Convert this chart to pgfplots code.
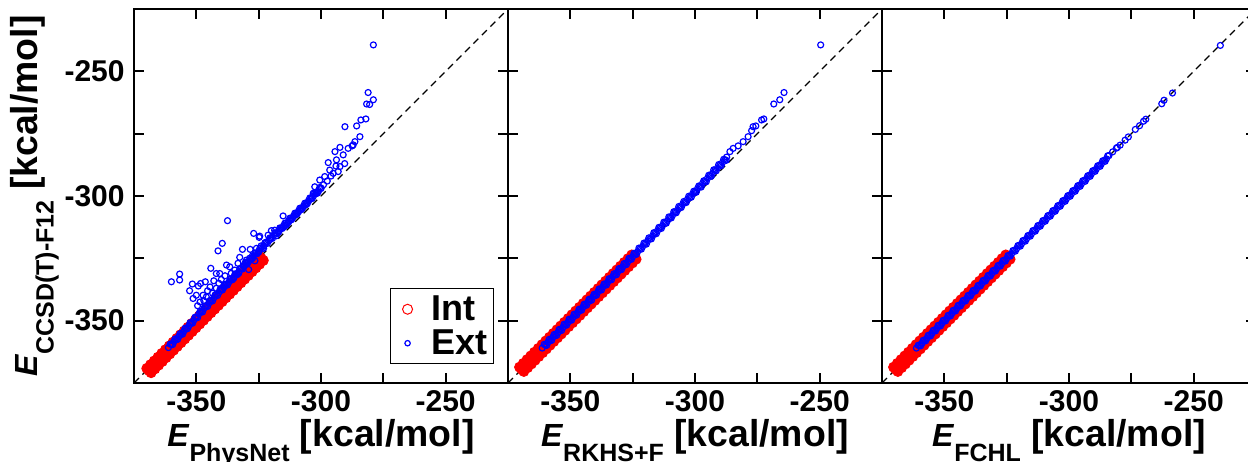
\documentclass[border=0pt]{standalone}
\usepackage{fontspec}
\setmainfont{Liberation Sans}
\usepackage{pgfplots}
\pgfplotsset{compat=1.18}
\usepackage{pgfplotstable}

% Int (training-range) points. Panels 2/3: (p,m), (x,x), (m,p); panel 1: (c,d), (e,f), (g,h)
\pgfplotstableread{
x p m c d e f g h
-369.5 -368.65 -370.35 -368.15 -370.85 -369.0 -370.0 -369.85 -369.15
-368.0 -367.15 -368.85 -366.65 -369.35 -367.5 -368.5 -368.35 -367.65
-366.5 -365.65 -367.35 -365.15 -367.85 -366.0 -367.0 -366.85 -366.15
-365.0 -364.15 -365.85 -363.65 -366.35 -364.5 -365.5 -365.35 -364.65
-363.5 -362.65 -364.35 -362.15 -364.85 -363.0 -364.0 -363.85 -363.15
-362.0 -361.15 -362.85 -360.65 -363.35 -361.5 -362.5 -362.35 -361.65
-360.5 -359.65 -361.35 -359.15 -361.85 -360.0 -361.0 -360.85 -360.15
-359.0 -358.15 -359.85 -357.65 -360.35 -358.5 -359.5 -359.35 -358.65
-357.5 -356.65 -358.35 -356.15 -358.85 -357.0 -358.0 -357.85 -357.15
-356.0 -355.15 -356.85 -354.65 -357.35 -355.5 -356.5 -356.35 -355.65
-354.5 -353.65 -355.35 -353.15 -355.85 -354.0 -355.0 -354.85 -354.15
-353.0 -352.15 -353.85 -351.65 -354.35 -352.5 -353.5 -353.35 -352.65
-351.5 -350.65 -352.35 -350.15 -352.85 -351.0 -352.0 -351.85 -351.15
-350.0 -349.15 -350.85 -348.65 -351.35 -349.5 -350.5 -350.35 -349.65
-348.5 -347.65 -349.35 -347.15 -349.85 -348.0 -349.0 -348.85 -348.15
-347.0 -346.15 -347.85 -345.65 -348.35 -346.5 -347.5 -347.35 -346.65
-345.5 -344.65 -346.35 -344.15 -346.85 -345.0 -346.0 -345.85 -345.15
-344.0 -343.15 -344.85 -342.65 -345.35 -343.5 -344.5 -344.35 -343.65
-342.5 -341.65 -343.35 -341.15 -343.85 -342.0 -343.0 -342.85 -342.15
-341.0 -340.15 -341.85 -339.65 -342.35 -340.5 -341.5 -341.35 -340.65
-339.5 -338.65 -340.35 -338.15 -340.85 -339.0 -340.0 -339.85 -339.15
-338.0 -337.15 -338.85 -336.65 -339.35 -337.5 -338.5 -338.35 -337.65
-336.5 -335.65 -337.35 -335.15 -337.85 -336.0 -337.0 -336.85 -336.15
-335.0 -334.15 -335.85 -333.65 -336.35 -334.5 -335.5 -335.35 -334.65
-333.5 -332.65 -334.35 -332.15 -334.85 -333.0 -334.0 -333.85 -333.15
-332.0 -331.15 -332.85 -330.65 -333.35 -331.5 -332.5 -332.35 -331.65
-330.5 -329.65 -331.35 -329.15 -331.85 -330.0 -331.0 -330.85 -330.15
-329.0 -328.15 -329.85 -327.65 -330.35 -328.5 -329.5 -329.35 -328.65
-327.5 -326.65 -328.35 -326.15 -328.85 -327.0 -328.0 -327.85 -327.15
-326.0 -325.15 -326.85 -324.65 -327.35 -325.5 -326.5 -326.35 -325.65
-324.5 -323.65 -325.35 -323.15 -325.85 -324.0 -325.0 -324.85 -324.15
}\intdata

% Ext points, PhysNet panel
\pgfplotstableread{
x y
-361.2 -360.8
-360.0 -359.5
-359.0 -358.4
-358.0 -357.5
-357.0 -356.3
-356.0 -355.4
-355.0 -354.2
-354.0 -353.3
-353.0 -352.1
-352.0 -351.0
-351.0 -349.8
-350.0 -348.6
-349.0 -347.3
-348.0 -346.4
-347.0 -345.2
-346.0 -344.1
-345.0 -343.0
-344.0 -341.8
-343.0 -340.9
-342.0 -339.6
-341.0 -338.8
-340.0 -337.6
-339.0 -336.7
-338.0 -335.4
-337.0 -334.6
-336.0 -333.3
-335.0 -332.5
-334.0 -331.2
-333.0 -330.4
-332.0 -329.1
-331.0 -328.3
-330.0 -327.0
-329.0 -326.2
-328.0 -325.0
-327.0 -324.1
-326.0 -322.9
-325.0 -322.1
-324.0 -320.8
-323.0 -320.0
-322.0 -318.8
-321.0 -318.0
-320.0 -316.9
-319.0 -315.9
-318.0 -314.9
-317.0 -313.9
-316.0 -312.9
-315.0 -311.9
-314.0 -310.9
-313.0 -309.9
-312.0 -309.0
-311.0 -308.0
-310.0 -307.0
-309.0 -306.0
-308.0 -305.0
-307.0 -304.0
-306.0 -303.0
-305.0 -302.0
-304.0 -301.0
-303.0 -300.0
-302.0 -299.0
-301.0 -297.8
-300.0 -296.8
-360.5 -359.4
-359.5 -359.6
-358.5 -357.3
-357.5 -357.5
-356.5 -355.2
-355.5 -355.4
-354.5 -353.0
-353.5 -353.2
-352.5 -350.8
-351.5 -351.0
-350.5 -348.6
-349.5 -348.8
-348.5 -346.3
-347.5 -346.5
-346.5 -344.1
-345.5 -344.3
-344.5 -341.9
-343.5 -342.1
-342.5 -339.7
-341.5 -339.9
-340.5 -337.5
-339.5 -337.7
-338.5 -335.5
-337.5 -335.7
-336.5 -333.4
-335.5 -333.6
-334.5 -331.3
-333.5 -331.5
-332.5 -329.1
-331.5 -329.3
-330.5 -326.9
-329.5 -327.1
-328.5 -324.9
-327.5 -325.1
-326.5 -322.9
-325.5 -323.1
-324.5 -320.9
-323.5 -321.1
-322.5 -318.8
-321.5 -319.0
-320.5 -316.8
-319.5 -317.0
-318.5 -314.8
-317.5 -315.0
-316.5 -312.8
-315.5 -313.0
-314.5 -310.9
-313.5 -311.1
-312.5 -308.9
-311.5 -309.1
-310.5 -306.9
-309.5 -307.1
-308.5 -304.9
-307.5 -305.1
-306.5 -302.9
-305.5 -303.1
-304.5 -300.8
-303.5 -301.0
-302.5 -298.7
-301.5 -298.9
-300.5 -296.6
-360.0 -334.4
-356.7 -331.3
-356.7 -333.7
-352.7 -338.0
-351.6 -335.3
-351.3 -341.1
-350.0 -339.8
-349.2 -336.1
-348.3 -335.1
-347.3 -339.8
-346.4 -334.4
-348.5 -342.5
-349.5 -344.0
-347.0 -342.0
-346.0 -340.5
-345.5 -338.0
-344.2 -329.0
-344.5 -336.5
-343.5 -339.0
-343.0 -334.0
-342.0 -331.1
-342.0 -337.0
-341.0 -335.0
-341.3 -322.0
-340.6 -331.1
-340.0 -333.5
-339.6 -319.0
-339.0 -336.0
-338.5 -332.0
-337.9 -327.7
-337.5 -309.9
-336.6 -328.4
-336.0 -331.0
-335.0 -333.0
-334.6 -329.7
-333.3 -327.0
-333.0 -331.0
-332.6 -324.6
-331.5 -321.4
-331.0 -328.0
-330.0 -326.5
-329.9 -325.7
-329.0 -329.5
-328.4 -321.4
-327.0 -315.0
-327.5 -324.0
-326.5 -326.0
-325.9 -321.0
-325.0 -322.5
-324.8 -316.6
-324.6 -316.1
-324.0 -320.0
-323.0 -321.0
-322.0 -318.5
-321.2 -315.7
-320.5 -317.5
-319.9 -313.9
-318.6 -313.7
-318.0 -316.0
-317.0 -314.5
-315.2 -308.0
-316.0 -313.0
-315.0 -312.5
-314.0 -311.8
-313.0 -310.5
-312.0 -309.6
-311.0 -308.2
-310.0 -307.5
-309.0 -306.3
-308.0 -305.5
-307.0 -304.2
-306.0 -303.5
-305.0 -302.0
-304.0 -301.0
-303.1 -298.9
-302.5 -296.3
-302.0 -299.0
-301.1 -298.3
-300.5 -293.6
-300.0 -297.0
-299.0 -295.5
-298.5 -292.2
-297.5 -294.0
-297.1 -286.6
-296.5 -289.6
-296.0 -292.0
-295.1 -290.9
-294.4 -282.2
-294.0 -288.0
-293.8 -285.5
-293.1 -290.2
-292.4 -288.2
-292.4 -280.5
-291.1 -283.5
-290.5 -287.0
-290.4 -272.2
-289.1 -280.9
-287.5 -279.9
-287.1 -279.5
-286.4 -278.2
-285.7 -271.9
-284.4 -276.2
-284.0 -269.5
-282.0 -269.1
-281.7 -263.1
-281.1 -258.5
-280.5 -263.3
-279.0 -261.4
-279.0 -239.4
}\extA

% Ext points, RKHS+F panel
\pgfplotstableread{
x y
-361.3 -361.0
-360.0 -359.8
-359.0 -358.7
-358.0 -357.8
-357.0 -356.6
-356.0 -355.7
-355.0 -354.8
-354.0 -353.6
-353.0 -352.7
-352.0 -351.6
-351.0 -350.7
-350.0 -349.6
-349.0 -348.7
-348.0 -347.5
-347.0 -346.6
-346.0 -345.6
-345.0 -344.6
-344.0 -343.5
-343.0 -342.6
-342.0 -341.5
-341.0 -340.5
-340.0 -339.6
-339.0 -338.5
-338.0 -337.4
-337.0 -336.5
-336.0 -335.4
-335.0 -334.5
-334.0 -333.4
-333.0 -332.3
-332.0 -331.5
-331.0 -330.4
-330.0 -329.3
-329.0 -328.4
-328.0 -327.3
-327.0 -326.4
-326.0 -325.2
-325.0 -324.3
-324.0 -323.2
-323.0 -322.3
-322.0 -321.1
-321.0 -320.2
-320.0 -319.1
-319.0 -318.0
-318.0 -317.1
-317.0 -316.0
-316.0 -314.9
-315.0 -313.9
-314.0 -312.8
-313.0 -311.9
-312.0 -310.7
-311.0 -309.8
-310.0 -308.6
-309.0 -307.7
-308.0 -306.5
-307.0 -305.6
-306.0 -304.5
-305.0 -303.4
-304.0 -302.5
-303.0 -301.3
-302.0 -300.4
-301.0 -299.2
-300.0 -298.3
-299.0 -297.1
-298.0 -296.2
-297.0 -295.0
-296.0 -294.1
-295.0 -292.9
-294.0 -291.8
-293.0 -290.9
-292.0 -289.7
-291.0 -288.8
-290.0 -287.6
-289.0 -286.6
-288.0 -285.5
-287.3 -284.4
-360.5 -359.5
-359.5 -359.9
-358.5 -357.5
-357.5 -357.9
-356.5 -355.5
-355.5 -355.9
-354.5 -353.5
-353.5 -353.9
-352.5 -351.4
-351.5 -351.8
-350.5 -349.4
-349.5 -349.8
-348.5 -347.4
-347.5 -347.8
-346.5 -345.4
-345.5 -345.8
-344.5 -343.4
-343.5 -343.8
-342.5 -341.4
-341.5 -341.8
-340.5 -339.4
-339.5 -339.8
-338.5 -337.3
-337.5 -337.7
-336.5 -335.3
-335.5 -335.7
-334.5 -333.2
-333.5 -333.6
-332.5 -331.2
-331.5 -331.6
-330.5 -329.1
-329.5 -329.5
-328.5 -327.1
-327.5 -327.5
-326.5 -325.0
-325.5 -325.4
-324.5 -323.0
-323.5 -323.4
-322.5 -320.9
-321.5 -321.3
-320.5 -318.9
-319.5 -319.3
-318.5 -316.8
-317.5 -317.2
-316.5 -314.7
-315.5 -315.1
-314.5 -312.6
-313.5 -313.0
-312.5 -310.5
-311.5 -310.9
-310.5 -308.4
-309.5 -308.8
-308.5 -306.3
-307.5 -306.7
-306.5 -304.2
-305.5 -304.6
-304.5 -302.2
-303.5 -302.6
-302.5 -300.1
-301.5 -300.5
-300.5 -298.1
-299.5 -298.5
-298.5 -296.0
-297.5 -296.4
-296.5 -293.9
-295.5 -294.3
-294.5 -291.7
-293.5 -292.1
-292.5 -289.5
-291.5 -289.9
-290.5 -287.4
-289.5 -287.8
-288.5 -285.3
-287.5 -285.7
-286.0 -282.2
-284.7 -280.9
-282.7 -279.9
-280.7 -278.2
-278.7 -276.2
-277.3 -273.8
-276.7 -272.2
-275.6 -271.9
-273.3 -269.5
-272.4 -269.1
-268.4 -263.1
-266.0 -261.4
-264.3 -258.5
-249.6 -239.4
}\extB

% Ext points, FCHL panel
\pgfplotstableread{
x y
-361.2 -361.0
-360.0 -359.8
-359.0 -359.1
-358.0 -357.8
-357.0 -357.1
-356.0 -355.8
-355.0 -355.1
-354.0 -353.8
-353.0 -353.1
-352.0 -351.8
-351.0 -351.1
-350.0 -349.8
-349.0 -349.1
-348.0 -347.8
-347.0 -347.1
-346.0 -345.8
-345.0 -345.1
-344.0 -343.8
-343.0 -343.1
-342.0 -341.8
-341.0 -341.1
-340.0 -339.8
-339.0 -339.1
-338.0 -337.8
-337.0 -337.1
-336.0 -335.8
-335.0 -335.1
-334.0 -333.8
-333.0 -333.1
-332.0 -331.8
-331.0 -331.1
-330.0 -329.8
-329.0 -329.1
-328.0 -327.8
-327.0 -327.1
-326.0 -325.8
-325.0 -325.1
-324.0 -323.8
-323.0 -323.1
-322.0 -321.8
-321.0 -321.1
-320.0 -319.8
-319.0 -319.1
-318.0 -317.8
-317.0 -317.1
-316.0 -315.8
-315.0 -315.1
-314.0 -313.8
-313.0 -313.1
-312.0 -311.8
-311.0 -311.1
-310.0 -309.8
-309.0 -309.1
-308.0 -307.8
-307.0 -307.1
-306.0 -305.8
-305.0 -305.1
-304.0 -303.8
-303.0 -303.1
-302.0 -301.8
-301.0 -301.1
-300.0 -299.8
-299.0 -299.1
-298.0 -297.8
-297.0 -297.1
-296.0 -295.8
-295.0 -295.1
-294.0 -293.8
-293.0 -293.1
-292.0 -291.8
-291.0 -291.1
-290.0 -289.8
-289.0 -289.1
-288.0 -287.8
-287.0 -287.1
-286.0 -285.8
-285.0 -285.1
-284.0 -283.8
-360.5 -359.9
-359.5 -360.1
-358.5 -357.9
-357.5 -358.1
-356.5 -355.9
-355.5 -356.1
-354.5 -353.9
-353.5 -354.1
-352.5 -351.9
-351.5 -352.1
-350.5 -349.9
-349.5 -350.1
-348.5 -347.9
-347.5 -348.1
-346.5 -345.9
-345.5 -346.1
-344.5 -343.9
-343.5 -344.1
-342.5 -341.9
-341.5 -342.1
-340.5 -339.9
-339.5 -340.1
-338.5 -337.9
-337.5 -338.1
-336.5 -335.9
-335.5 -336.1
-334.5 -333.9
-333.5 -334.1
-332.5 -331.9
-331.5 -332.1
-330.5 -329.9
-329.5 -330.1
-328.5 -327.9
-327.5 -328.1
-326.5 -325.9
-325.5 -326.1
-324.5 -323.9
-323.5 -324.1
-322.5 -321.9
-321.5 -322.1
-320.5 -319.9
-319.5 -320.1
-318.5 -317.9
-317.5 -318.1
-316.5 -315.9
-315.5 -316.1
-314.5 -313.9
-313.5 -314.1
-312.5 -311.9
-311.5 -312.1
-310.5 -309.9
-309.5 -310.1
-308.5 -307.9
-307.5 -308.1
-306.5 -305.9
-305.5 -306.1
-304.5 -303.9
-303.5 -304.1
-302.5 -301.9
-301.5 -302.1
-300.5 -299.9
-299.5 -300.1
-298.5 -297.9
-297.5 -298.1
-296.5 -295.9
-295.5 -296.1
-294.5 -293.9
-293.5 -294.1
-292.5 -291.9
-291.5 -292.1
-290.5 -289.9
-289.5 -290.1
-288.5 -287.9
-287.5 -288.1
-286.5 -285.9
-285.5 -286.1
-284.5 -283.9
-282.5 -282.3
-281.0 -280.8
-280.6 -280.5
-279.5 -279.6
-277.5 -277.6
-276.2 -276.3
-273.4 -273.3
-271.7 -271.8
-270.1 -270.0
-269.2 -269.2
-262.8 -263.0
-261.9 -261.6
-258.5 -258.7
-239.3 -239.6
}\extC

\newcommand{\labfont}{\fontsize{18.7}{19}\selectfont\bfseries}
% axis title: E (slightly smaller), lowered subscript, unit
\newcommand{\lab}[2]{{\fontsize{16}{16}\selectfont\textit{E}}\raisebox{#2}{\fontsize{12.5}{13}\selectfont\bfseries #1}\ [kcal/mol]}

\pgfplotsset{
  panel/.style={
    scale only axis, width=187pt, height=187pt,
    anchor=south west,
    xmin=-375, xmax=-225, ymin=-375, ymax=-225,
    xtick={-350,-300,-250}, ytick={-350,-300,-250},
    xticklabels={-350,-300,-250},
    minor xtick={-325,-275}, minor ytick={-325,-275},
    major tick length=5pt, minor tick length=5pt,
    tick style={black, line width=1pt},
    axis line style={line width=1pt},
    tick label style={font=\fontsize{15}{15}\selectfont\bfseries},
    xticklabel style={inner sep=0pt, yshift=-3.5pt},
    yticklabel style={inner sep=0pt, xshift=-4.5pt},
    every axis x label/.style={at={(axis description cs:0.5,-0.1711)}, anchor=base, font=\labfont},
  },
  intst/.style={only marks, mark=*, mark size=2.5pt,
    mark options={draw=red, fill=red, line width=0.5pt}},
  extst/.style={only marks, mark=o, mark size=1.5pt,
    mark options={draw=blue, line width=0.6pt}},
  diagst/.style={black, line width=0.6pt, dash pattern=on 3.5pt off 2.5pt},
}

\begin{document}
\begin{tikzpicture}
% ---------- panel 1 ----------
\begin{axis}[panel, at={(67pt,39pt)},
  xlabel={\lab{PhysNet}{-7.2pt}},
  ylabel={\lab{CCSD(T)-F12}{-8pt}},
  yticklabels={-350,-300,-250},
  every axis y label/.style={at={(axis description cs:-0.258,0.5)}, rotate=90, anchor=base, font=\labfont},
  legend style={at={(axis description cs:1,0)}, anchor=south east,
    xshift=-7pt, yshift=9.5pt, draw=black, line width=0.5pt,
    font=\fontsize{18}{18}\selectfont\bfseries,
    inner xsep=0pt, inner ysep=3.2pt, row sep=3.1pt,
    nodes={inner xsep=3pt, inner ysep=0pt}},
  legend cell align=left,
]
\addplot[intst, legend image code/.code={\path (0pt,0pt) (17pt,0pt);
  \draw[red, line width=0.5pt] (8.3pt,0pt) circle (2.5pt);}] table[x=c, y=d] {\intdata};
\addlegendentry{Int}
\addplot[intst, forget plot] table[x=e, y=f] {\intdata};
\addplot[intst, forget plot] table[x=g, y=h] {\intdata};
\addplot[extst, legend image code/.code={\path (0pt,0pt) (17pt,0pt);
  \draw[blue, line width=0.6pt] (8.3pt,0pt) circle (1.35pt);}] table[x=x, y=y] {\extA};
\addlegendentry{Ext}
\addplot[diagst, forget plot] coordinates {(-375,-375) (-225,-225)};
\end{axis}
% ---------- panel 2 ----------
\begin{axis}[panel, at={(254pt,39pt)},
  xlabel={\lab{RKHS+F}{-7.2pt}},
  yticklabels={},
]
\addplot[intst] table[x=p, y=m] {\intdata};
\addplot[intst] table[x=x, y=x] {\intdata};
\addplot[intst] table[x=m, y=p] {\intdata};
\addplot[extst] table[x=x, y=y] {\extB};
\addplot[diagst] coordinates {(-375,-375) (-225,-225)};
\end{axis}
% ---------- panel 3 ----------
\begin{axis}[panel, at={(441pt,39pt)},
  xlabel={\lab{FCHL}{-7.2pt}},
  yticklabels={},
]
\addplot[intst] table[x=p, y=m] {\intdata};
\addplot[intst] table[x=x, y=x] {\intdata};
\addplot[intst] table[x=m, y=p] {\intdata};
\addplot[extst] table[x=x, y=y] {\extC};
\addplot[diagst] coordinates {(-375,-375) (-225,-225)};
\end{axis}
\pgfresetboundingbox
\path[use as bounding box] (0pt,0pt) rectangle (624pt,230.5pt);
\end{tikzpicture}
\end{document}
